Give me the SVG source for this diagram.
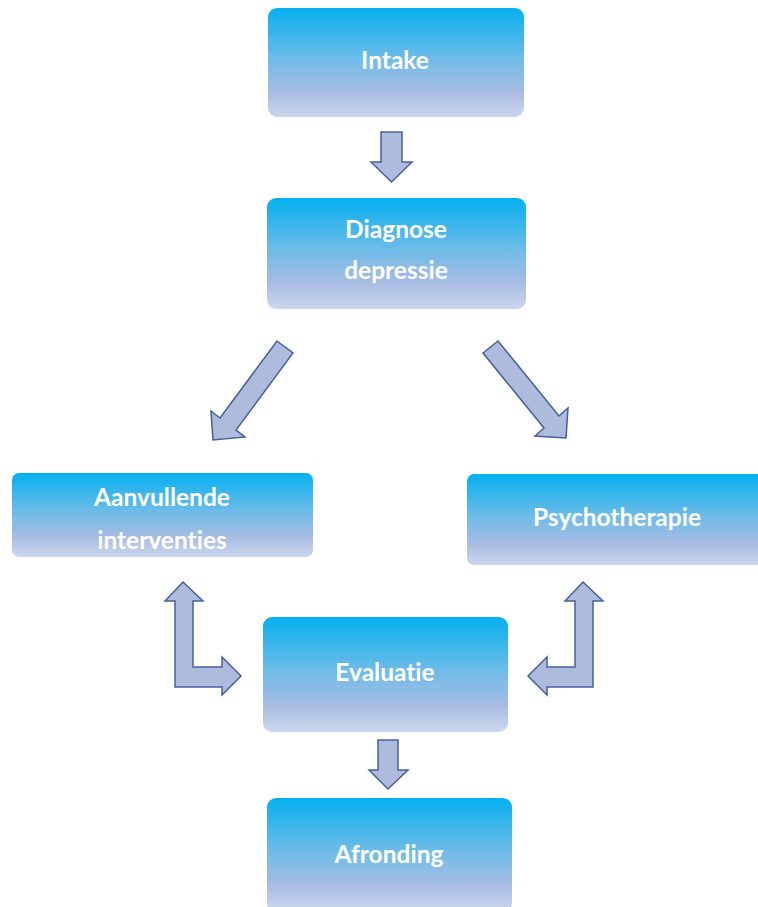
<svg xmlns="http://www.w3.org/2000/svg" width="758" height="907" viewBox="0 0 758 907">
<defs>
<linearGradient id="g" x1="0" y1="0" x2="0" y2="1">
<stop offset="0" stop-color="#05B0F0"/>
<stop offset="0.45" stop-color="#6BBBE8"/>
<stop offset="0.78" stop-color="#AABDE3"/>
<stop offset="1" stop-color="#CCD7EE"/>
</linearGradient>
</defs>
<style>
.box{fill:url(#g);}
.t{font-family:Lato,"Open Sans",sans-serif;font-weight:bold;font-size:24.5px;fill:#fff;text-anchor:middle;font-variant-ligatures:none;}
.a{fill:#AEBBDD;stroke:#46619A;stroke-width:1.5;stroke-linejoin:miter;}
</style>
<rect width="758" height="907" fill="#fff"/>
<g id="intake"><rect class="box" x="268" y="8" width="256" height="109" rx="9"/><text class="t" x="395" y="69">Intake</text></g>
<g id="diagnose"><rect class="box" x="267" y="198" width="259" height="111" rx="9"/><text class="t" x="396" y="238">Diagnose</text><text class="t" x="396" y="279">depressie</text></g>
<g id="aanvullende"><rect class="box" x="12" y="473" width="301" height="84" rx="7"/><text class="t" x="162" y="506">Aanvullende</text><text class="t" x="162" y="549">interventies</text></g>
<g id="psychotherapie"><rect class="box" x="467" y="474" width="301" height="91" rx="7"/><text class="t" x="617" y="526">Psychotherapie</text></g>
<g id="evaluatie"><rect class="box" x="263" y="617" width="245" height="115" rx="9"/><text class="t" x="385" y="681">Evaluatie</text></g>
<g id="afronding"><rect class="box" x="267" y="798" width="245" height="114" rx="9"/><text class="t" x="389" y="863">Afronding</text></g>
<g id="connectors">
<polygon class="a" points="381,132 402,132 402,162 412,162 391.5,182 371,162 381,162"/>
<polygon class="a" points="277,341 293,353 236,430 245,437 213,440 211,411 220,418"/>
<polygon class="a" points="483,353 498,341 559,416 568,408 566,438 535,436 544,428"/>
<polygon class="a" points="183,582 203,601 193,601 193,667 222,667 222,657 241,676 222,695 222,687 175,687 175,601 165,601"/>
<polygon class="a" points="583,582 603,601 593,601 593,687 547,687 547,695 528,676 547,657 547,667 575,667 575,601 565,601"/>
<polygon class="a" points="378,740 398,740 398,770 408,770 388,789 369,770 378,770"/>
</g>
</svg>
